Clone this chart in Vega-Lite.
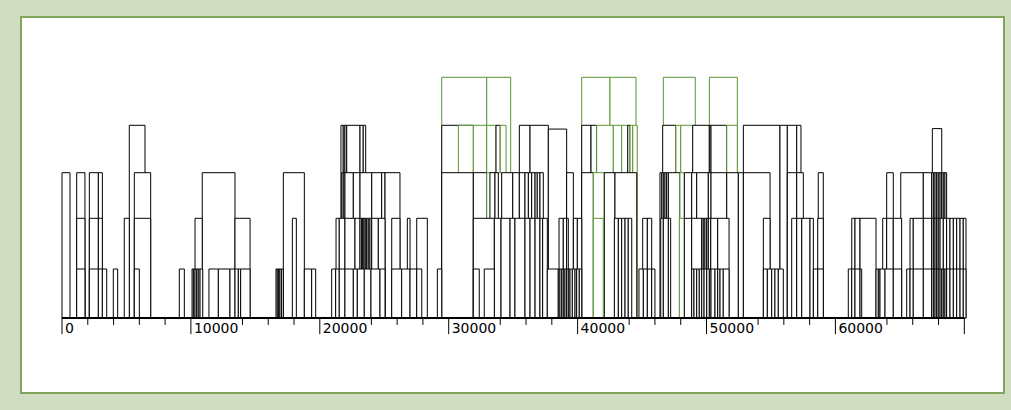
{
  "$schema": "https://vega.github.io/schema/vega-lite/v6.json",
  "width": 983,
  "height": 376,
  "autosize": {"type": "none"},
  "padding": {"left": 21, "top": 17, "right": 7, "bottom": 17},
  "background": "#d0ddc3",
  "config": {"view": {"fill": "white", "stroke": "#80a65b", "strokeWidth": 2}},
  "layer": [
    {
      "data": {"values": [
        {"a":29460,"b":32950,"h":5,"c":"g"},{"a":32950,"b":34810,"h":5,"c":"g"},{"a":40320,"b":42510,"h":5,"c":"g"},{"a":42510,"b":44530,"h":5,"c":"g"},{"a":46650,"b":49130,"h":5,"c":"g"},{"a":50220,"b":52390,"h":5,"c":"g"},
        {"a":5220,"b":6440,"h":4,"c":"k"},
        {"a":21640,"b":21820,"h":4,"c":"k"},{"a":21820,"b":21950,"h":4,"c":"k"},{"a":21950,"b":22090,"h":4,"c":"k"},{"a":22090,"b":23120,"h":4,"c":"k"},{"a":23120,"b":23370,"h":4,"c":"k"},{"a":23370,"b":23560,"h":4,"c":"k"},
        {"a":29460,"b":31910,"h":4,"c":"k"},{"a":30750,"b":31910,"h":4,"c":"g"},{"a":31910,"b":32950,"h":4,"c":"g"},{"a":32950,"b":33670,"h":4,"c":"g"},{"a":33670,"b":34000,"h":4,"c":"k"},{"a":34000,"b":34450,"h":4,"c":"g"},
        {"a":35480,"b":36310,"h":4,"c":"k"},{"a":36310,"b":37730,"h":4,"c":"k"},
        {"a":40320,"b":41040,"h":4,"c":"k"},{"a":41040,"b":41480,"h":4,"c":"k"},{"a":41480,"b":42770,"h":4,"c":"g"},{"a":42770,"b":43420,"h":4,"c":"g"},{"a":43420,"b":43890,"h":4,"c":"g"},{"a":43890,"b":44070,"h":4,"c":"k"},{"a":44070,"b":44280,"h":4,"c":"g"},{"a":44280,"b":44630,"h":4,"c":"g"},
        {"a":46600,"b":47630,"h":4,"c":"k"},{"a":47630,"b":48000,"h":4,"c":"g"},{"a":48000,"b":48930,"h":4,"c":"g"},{"a":48930,"b":50220,"h":4,"c":"k"},{"a":50220,"b":50350,"h":4,"c":"k"},{"a":50350,"b":51570,"h":4,"c":"k"},{"a":51570,"b":52390,"h":4,"c":"g"},
        {"a":52860,"b":55700,"h":4,"c":"k"},{"a":55700,"b":56270,"h":4,"c":"k"},{"a":56270,"b":57000,"h":4,"c":"k"},{"a":57000,"b":57330,"h":4,"c":"k"},
        {"a":37730,"b":39150,"h":3.92,"c":"k"},{"a":67520,"b":68250,"h":3.93,"c":"k"},
        {"a":0,"b":620,"h":3,"c":"k"},{"a":1140,"b":1780,"h":3,"c":"k"},{"a":2120,"b":2820,"h":3,"c":"k"},{"a":2820,"b":3130,"h":3,"c":"k"},{"a":5610,"b":6880,"h":3,"c":"k"},
        {"a":10880,"b":13420,"h":3,"c":"k"},{"a":17170,"b":18800,"h":3,"c":"k"},
        {"a":21700,"b":21820,"h":3,"c":"k"},{"a":21820,"b":21950,"h":3,"c":"k"},{"a":21950,"b":22600,"h":3,"c":"k"},{"a":22600,"b":23120,"h":3,"c":"k"},{"a":23120,"b":24030,"h":3,"c":"k"},{"a":24030,"b":24800,"h":3,"c":"k"},{"a":24800,"b":25060,"h":3,"c":"k"},{"a":25060,"b":26220,"h":3,"c":"k"},
        {"a":29460,"b":31910,"h":3,"c":"k"},{"a":31910,"b":32950,"h":3,"c":"k"},{"a":32950,"b":34110,"h":3,"c":"g"},{"a":33200,"b":33590,"h":3,"c":"k"},{"a":33590,"b":33850,"h":3,"c":"k"},
        {"a":34110,"b":34970,"h":3,"c":"k"},{"a":34970,"b":35480,"h":3,"c":"k"},{"a":35480,"b":35920,"h":3,"c":"k"},{"a":35920,"b":36180,"h":3,"c":"k"},{"a":36180,"b":36440,"h":3,"c":"k"},{"a":36440,"b":36700,"h":3,"c":"k"},{"a":36700,"b":36870,"h":3,"c":"k"},{"a":36870,"b":37080,"h":3,"c":"k"},{"a":37080,"b":37340,"h":3,"c":"k"},
        {"a":39150,"b":39670,"h":3,"c":"k"},
        {"a":40320,"b":41220,"h":3,"c":"k"},{"a":41220,"b":42070,"h":3,"c":"g"},{"a":42070,"b":42900,"h":3,"c":"k"},{"a":42900,"b":44590,"h":3,"c":"k"},
        {"a":46390,"b":46530,"h":3,"c":"k"},{"a":46530,"b":46650,"h":3,"c":"k"},{"a":46650,"b":46780,"h":3,"c":"k"},{"a":46780,"b":46910,"h":3,"c":"k"},{"a":46910,"b":47040,"h":3,"c":"k"},{"a":47040,"b":47940,"h":3,"c":"k"},{"a":47940,"b":48280,"h":3,"c":"g"},{"a":48280,"b":48850,"h":3,"c":"k"},{"a":48850,"b":49240,"h":3,"c":"k"},{"a":49240,"b":50140,"h":3,"c":"k"},{"a":50140,"b":50350,"h":3,"c":"k"},{"a":50350,"b":51570,"h":3,"c":"k"},{"a":51570,"b":52470,"h":3,"c":"k"},{"a":52470,"b":52860,"h":3,"c":"k"},{"a":52860,"b":54930,"h":3,"c":"k"},
        {"a":56270,"b":57000,"h":3,"c":"k"},{"a":57000,"b":57510,"h":3,"c":"k"},{"a":58670,"b":59060,"h":3,"c":"k"},
        {"a":63980,"b":64490,"h":3,"c":"k"},{"a":65070,"b":66820,"h":3,"c":"k"},{"a":66820,"b":67470,"h":3,"c":"k"},{"a":67470,"b":67600,"h":3,"c":"k"},{"a":67600,"b":67730,"h":3,"c":"k"},{"a":67730,"b":67860,"h":3,"c":"k"},{"a":67860,"b":67980,"h":3,"c":"k"},{"a":67980,"b":68120,"h":3,"c":"k"},{"a":68120,"b":68250,"h":3,"c":"k"},{"a":68250,"b":68370,"h":3,"c":"k"},{"a":68370,"b":68500,"h":3,"c":"k"},{"a":68500,"b":68630,"h":3,"c":"k"},
        {"a":1140,"b":1780,"h":2,"c":"k"},{"a":2120,"b":2820,"h":2,"c":"k"},{"a":2820,"b":3130,"h":2,"c":"k"},{"a":4830,"b":5220,"h":2,"c":"k"},{"a":5610,"b":6880,"h":2,"c":"k"},{"a":10320,"b":10880,"h":2,"c":"k"},
        {"a":13420,"b":14590,"h":2,"c":"k"},{"a":17870,"b":18180,"h":2,"c":"k"},
        {"a":21260,"b":21510,"h":2,"c":"k"},{"a":21510,"b":21950,"h":2,"c":"k"},{"a":21950,"b":22730,"h":2,"c":"k"},{"a":22730,"b":23120,"h":2,"c":"k"},{"a":23120,"b":23250,"h":2,"c":"k"},{"a":23250,"b":23330,"h":2,"c":"k"},{"a":23330,"b":23430,"h":2,"c":"k"},{"a":23430,"b":23530,"h":2,"c":"k"},{"a":23530,"b":23640,"h":2,"c":"k"},{"a":23640,"b":23760,"h":2,"c":"k"},{"a":23760,"b":23890,"h":2,"c":"k"},{"a":23890,"b":24030,"h":2,"c":"k"},{"a":24030,"b":24540,"h":2,"c":"k"},{"a":24540,"b":25060,"h":2,"c":"k"},
        {"a":25580,"b":26220,"h":2,"c":"k"},{"a":26790,"b":27000,"h":2,"c":"k"},{"a":27520,"b":28340,"h":2,"c":"k"},
        {"a":31910,"b":33540,"h":2,"c":"k"},{"a":33540,"b":34060,"h":2,"c":"k"},{"a":34060,"b":34760,"h":2,"c":"k"},{"a":34760,"b":35140,"h":2,"c":"k"},{"a":35140,"b":35920,"h":2,"c":"k"},{"a":35920,"b":36310,"h":2,"c":"k"},{"a":36310,"b":36700,"h":2,"c":"k"},{"a":36700,"b":37080,"h":2,"c":"k"},{"a":37080,"b":37290,"h":2,"c":"k"},{"a":37290,"b":37650,"h":2,"c":"k"},
        {"a":38560,"b":38890,"h":2,"c":"k"},{"a":38890,"b":39150,"h":2,"c":"k"},{"a":39150,"b":39280,"h":2,"c":"k"},{"a":39670,"b":39980,"h":2,"c":"k"},{"a":39980,"b":40320,"h":2,"c":"k"},
        {"a":41220,"b":41990,"h":2,"c":"g"},
        {"a":42850,"b":43160,"h":2,"c":"k"},{"a":43160,"b":43420,"h":2,"c":"k"},{"a":43420,"b":43680,"h":2,"c":"k"},{"a":43680,"b":43930,"h":2,"c":"k"},{"a":43930,"b":44200,"h":2,"c":"k"},
        {"a":45050,"b":45410,"h":2,"c":"k"},{"a":45410,"b":45750,"h":2,"c":"k"},
        {"a":46450,"b":46650,"h":2,"c":"k"},{"a":46650,"b":47040,"h":2,"c":"k"},{"a":47040,"b":47220,"h":2,"c":"k"},
        {"a":47890,"b":48280,"h":2,"c":"g"},{"a":48280,"b":48850,"h":2,"c":"k"},
        {"a":48850,"b":49630,"h":2,"c":"k"},{"a":49630,"b":49750,"h":2,"c":"k"},{"a":49750,"b":49880,"h":2,"c":"k"},{"a":49880,"b":50020,"h":2,"c":"k"},{"a":50020,"b":50140,"h":2,"c":"k"},{"a":50140,"b":50330,"h":2,"c":"k"},{"a":50330,"b":50870,"h":2,"c":"k"},{"a":50870,"b":51750,"h":2,"c":"k"},
        {"a":54410,"b":54930,"h":2,"c":"k"},
        {"a":56610,"b":57000,"h":2,"c":"k"},{"a":57000,"b":57390,"h":2,"c":"k"},{"a":57390,"b":58030,"h":2,"c":"k"},{"a":58030,"b":58290,"h":2,"c":"k"},{"a":58630,"b":59060,"h":2,"c":"k"},
        {"a":61270,"b":61520,"h":2,"c":"k"},{"a":61520,"b":61910,"h":2,"c":"k"},{"a":61910,"b":63150,"h":2,"c":"k"},
        {"a":63670,"b":63980,"h":2,"c":"k"},{"a":63980,"b":64490,"h":2,"c":"k"},{"a":64490,"b":65140,"h":2,"c":"k"},
        {"a":65790,"b":66040,"h":2,"c":"k"},{"a":66040,"b":66820,"h":2,"c":"k"},{"a":66820,"b":67470,"h":2,"c":"k"},{"a":67470,"b":67600,"h":2,"c":"k"},{"a":67600,"b":67730,"h":2,"c":"k"},{"a":67730,"b":67860,"h":2,"c":"k"},{"a":67860,"b":67980,"h":2,"c":"k"},{"a":67980,"b":68120,"h":2,"c":"k"},{"a":68120,"b":68370,"h":2,"c":"k"},{"a":68370,"b":68630,"h":2,"c":"k"},{"a":68630,"b":68890,"h":2,"c":"k"},{"a":68890,"b":69150,"h":2,"c":"k"},{"a":69150,"b":69410,"h":2,"c":"k"},{"a":69410,"b":69670,"h":2,"c":"k"},{"a":69670,"b":69920,"h":2,"c":"k"},{"a":69920,"b":70130,"h":2,"c":"k"},
        {"a":1140,"b":1780,"h":1,"c":"k"},{"a":2120,"b":2820,"h":1,"c":"k"},{"a":2820,"b":3130,"h":1,"c":"k"},{"a":3130,"b":3470,"h":1,"c":"k"},{"a":3980,"b":4320,"h":1,"c":"k"},{"a":5610,"b":6000,"h":1,"c":"k"},{"a":9100,"b":9490,"h":1,"c":"k"},
        {"a":10090,"b":10190,"h":1,"c":"k"},{"a":10190,"b":10320,"h":1,"c":"k"},{"a":10320,"b":10450,"h":1,"c":"k"},{"a":10450,"b":10570,"h":1,"c":"k"},{"a":10570,"b":10710,"h":1,"c":"k"},{"a":10710,"b":10920,"h":1,"c":"k"},
        {"a":11400,"b":12130,"h":1,"c":"k"},{"a":12130,"b":13030,"h":1,"c":"k"},{"a":13030,"b":13420,"h":1,"c":"k"},{"a":13420,"b":13680,"h":1,"c":"k"},{"a":13680,"b":13860,"h":1,"c":"k"},{"a":13860,"b":14590,"h":1,"c":"k"},
        {"a":16600,"b":16700,"h":1,"c":"k"},{"a":16700,"b":16810,"h":1,"c":"k"},{"a":16810,"b":16910,"h":1,"c":"k"},{"a":16910,"b":17040,"h":1,"c":"k"},{"a":17040,"b":17170,"h":1,"c":"k"},
        {"a":18800,"b":19370,"h":1,"c":"k"},{"a":19370,"b":19680,"h":1,"c":"k"},
        {"a":20920,"b":21230,"h":1,"c":"k"},{"a":21230,"b":21510,"h":1,"c":"k"},{"a":21510,"b":21950,"h":1,"c":"k"},{"a":21950,"b":22600,"h":1,"c":"k"},{"a":22600,"b":22910,"h":1,"c":"k"},{"a":22910,"b":23450,"h":1,"c":"k"},{"a":23450,"b":23970,"h":1,"c":"k"},{"a":23970,"b":24670,"h":1,"c":"k"},{"a":24670,"b":25060,"h":1,"c":"k"},
        {"a":25580,"b":26350,"h":1,"c":"k"},{"a":26350,"b":27000,"h":1,"c":"k"},{"a":27000,"b":27520,"h":1,"c":"k"},{"a":27520,"b":27910,"h":1,"c":"k"},
        {"a":29120,"b":29460,"h":1,"c":"k"},{"a":31910,"b":32370,"h":1,"c":"k"},{"a":32760,"b":33540,"h":1,"c":"k"},
        {"a":37650,"b":38500,"h":1,"c":"k"},{"a":38500,"b":38630,"h":1,"c":"k"},{"a":38630,"b":38770,"h":1,"c":"k"},{"a":38770,"b":38890,"h":1,"c":"k"},{"a":38890,"b":39020,"h":1,"c":"k"},{"a":39020,"b":39150,"h":1,"c":"k"},{"a":39150,"b":39280,"h":1,"c":"k"},{"a":39280,"b":39410,"h":1,"c":"k"},{"a":39410,"b":39590,"h":1,"c":"k"},{"a":39590,"b":39800,"h":1,"c":"k"},{"a":39800,"b":39930,"h":1,"c":"k"},{"a":39930,"b":40130,"h":1,"c":"k"},{"a":40130,"b":40320,"h":1,"c":"k"},
        {"a":44760,"b":45100,"h":1,"c":"k"},{"a":45100,"b":45410,"h":1,"c":"k"},{"a":45410,"b":45750,"h":1,"c":"k"},{"a":45750,"b":46000,"h":1,"c":"k"},
        {"a":48850,"b":49030,"h":1,"c":"k"},{"a":49030,"b":49240,"h":1,"c":"k"},{"a":49240,"b":49440,"h":1,"c":"k"},{"a":49440,"b":49630,"h":1,"c":"k"},{"a":49630,"b":49810,"h":1,"c":"k"},{"a":49810,"b":50020,"h":1,"c":"k"},{"a":50020,"b":50220,"h":1,"c":"k"},{"a":50220,"b":50350,"h":1,"c":"k"},{"a":50350,"b":50660,"h":1,"c":"k"},{"a":50660,"b":50870,"h":1,"c":"k"},{"a":50870,"b":51050,"h":1,"c":"k"},{"a":51050,"b":51300,"h":1,"c":"k"},{"a":51300,"b":51750,"h":1,"c":"k"},
        {"a":54410,"b":54720,"h":1,"c":"k"},{"a":54720,"b":55060,"h":1,"c":"k"},{"a":55060,"b":55310,"h":1,"c":"k"},{"a":55310,"b":55570,"h":1,"c":"k"},{"a":55570,"b":55960,"h":1,"c":"k"},
        {"a":58290,"b":58630,"h":1,"c":"k"},{"a":58630,"b":59060,"h":1,"c":"k"},
        {"a":61000,"b":61270,"h":1,"c":"k"},{"a":61270,"b":61520,"h":1,"c":"k"},{"a":61520,"b":61910,"h":1,"c":"k"},{"a":61910,"b":62040,"h":1,"c":"k"},
        {"a":63150,"b":63330,"h":1,"c":"k"},{"a":63330,"b":63460,"h":1,"c":"k"},{"a":63460,"b":63850,"h":1,"c":"k"},{"a":63850,"b":64490,"h":1,"c":"k"},{"a":64490,"b":65140,"h":1,"c":"k"},
        {"a":65530,"b":65790,"h":1,"c":"k"},{"a":65790,"b":66040,"h":1,"c":"k"},{"a":66040,"b":66820,"h":1,"c":"k"},{"a":66820,"b":67470,"h":1,"c":"k"},{"a":67470,"b":67600,"h":1,"c":"k"},{"a":67600,"b":67730,"h":1,"c":"k"},{"a":67730,"b":67860,"h":1,"c":"k"},{"a":67860,"b":67980,"h":1,"c":"k"},{"a":67980,"b":68120,"h":1,"c":"k"},{"a":68120,"b":68250,"h":1,"c":"k"},{"a":68250,"b":68370,"h":1,"c":"k"},{"a":68370,"b":68500,"h":1,"c":"k"},{"a":68500,"b":68630,"h":1,"c":"k"},{"a":68630,"b":68890,"h":1,"c":"k"},{"a":68890,"b":69150,"h":1,"c":"k"},{"a":69150,"b":69410,"h":1,"c":"k"},{"a":69410,"b":69670,"h":1,"c":"k"},{"a":69670,"b":69920,"h":1,"c":"k"},{"a":69920,"b":70130,"h":1,"c":"k"}
      ]},
      "mark": {"type": "rect", "fill": "white", "strokeWidth": 1},
      "encoding": {
        "x": {
          "field": "a", "type": "quantitative",
          "scale": {"domain": [-3181, 73080], "nice": false, "zero": false},
          "axis": null
        },
        "x2": {"field": "b"},
        "y": {
          "field": "h", "type": "quantitative",
          "scale": {"domain": [0, 1, 2, 3, 4, 5], "range": [301, 252, 201.3, 155.7, 108.3, 60.3], "zero": false, "nice": false},
          "axis": null
        },
        "y2": {"datum": 0},
        "stroke": {
          "field": "c", "type": "nominal",
          "scale": {"domain": ["k", "g"], "range": ["#000000", "#5b9432"]},
          "legend": null
        }
      }
    },
    {
      "data": {"values": [{"t":0},{"t":10000},{"t":20000},{"t":30000},{"t":40000},{"t":50000},{"t":60000},{"t":70000}]},
      "mark": {"type": "rule", "color": "black", "strokeWidth": 1},
      "encoding": {
        "x": {"field": "t", "type": "quantitative"},
        "y": {"datum": 0},
        "y2": {"datum": -0.33}
      }
    },
    {
      "data": {"values": [{"t":2000},{"t":4000},{"t":6000},{"t":8000},{"t":14000},{"t":16000},{"t":18000},{"t":24000},{"t":26000},{"t":28000},{"t":34000},{"t":36000},{"t":38000},{"t":44000},{"t":46000},{"t":48000},{"t":54000},{"t":56000},{"t":58000},{"t":64000},{"t":66000},{"t":68000}]},
      "mark": {"type": "rule", "color": "black", "strokeWidth": 1},
      "encoding": {
        "x": {"field": "t", "type": "quantitative"},
        "y": {"datum": 0},
        "y2": {"datum": -0.14}
      }
    },
    {
      "data": {"values": [{"s": 0, "e": 70000}]},
      "mark": {"type": "rule", "strokeWidth": 2, "color": "black"},
      "encoding": {
        "x": {"field": "s", "type": "quantitative"},
        "x2": {"field": "e"},
        "y": {"datum": 0}
      }
    },
    {
      "data": {"values": [{"t":0},{"t":10000},{"t":20000},{"t":30000},{"t":40000},{"t":50000},{"t":60000}]},
      "mark": {"type": "text", "align": "left", "baseline": "middle", "dx": 3, "font": "DejaVu Sans", "fontSize": 14, "color": "black"},
      "encoding": {
        "x": {"field": "t", "type": "quantitative"},
        "y": {"datum": -0.225},
        "text": {"field": "t", "type": "quantitative", "format": "d"}
      }
    }
  ]
}
